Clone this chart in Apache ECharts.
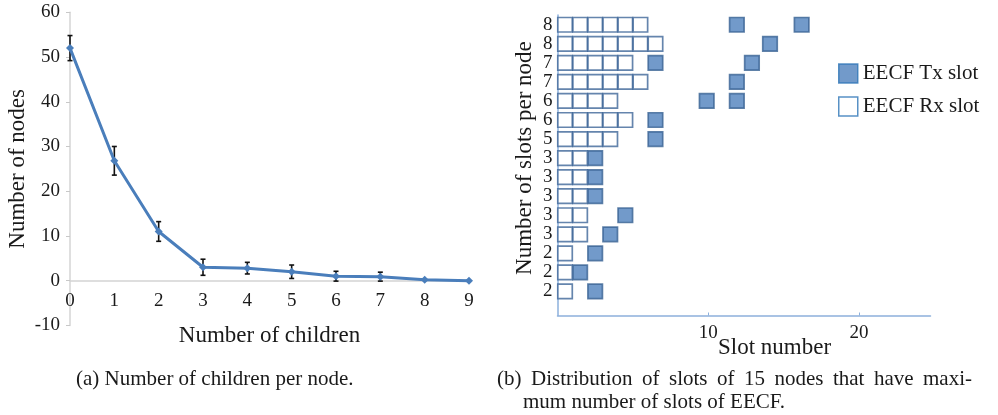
<!DOCTYPE html>
<html>
<head>
<meta charset="utf-8">
<script src="https://cdn.jsdelivr.net/npm/echarts@6/dist/echarts.min.js"></script>
<style>
  html, body { margin: 0; padding: 0; background: #fff; }
  #chart { width: 998px; height: 415px; }
</style>
</head>
<body>
<div id="chart"></div>
<script>
// (a) Number of children per node, with error bars
const children = [0, 1, 2, 3, 4, 5, 6, 7, 8, 9];
const nodeCounts = [52, 26.8, 11, 3, 2.8, 2, 1, 0.9, 0.2, 0];
const nodeErrors = [2.8, 3.2, 2.2, 1.8, 1.3, 1.5, 1.1, 1.0, 0, 0];

// (b) Slot layout of 15 nodes, top row first
const slotsPerNode = ['8', '8', '7', '7', '6', '6', '5', '3', '3', '3', '3', '3', '2', '2', '2'];
const rxSlotCount = [6, 7, 5, 6, 4, 5, 4, 2, 2, 2, 2, 2, 1, 1, 1];
const txSlots = [
  [12.4, 16.7],
  [14.6],
  [7, 13.4],
  [12.4],
  [10.4, 12.4],
  [7],
  [7],
  [3],
  [3],
  [3],
  [5],
  [4],
  [3],
  [2],
  [3]
];
const slotTicks = [10, 20];

const captionA = '(a) Number of children per node.';
const captionB1 = '(b) Distribution of slots of 15 nodes that have maxi-';
const captionB2 = 'mum number of slots of EECF.';

const FONT = '"Liberation Serif", "DejaVu Serif", serif';
const INK = '#1a1a1a';
const CAPTION_SIZE = 21;

const lineData = children.map((c, i) => [c, nodeCounts[i]]);
const errData = children.map((c, i) => [c, nodeCounts[i], nodeErrors[i]]).filter(d => d[2] > 0);

// squares: slot s covers [s-1, s], so it is centred at s - 0.5
const rxData = [];
rxSlotCount.forEach((n, row) => {
  for (let s = 1; s <= n; s++) rxData.push([s - 0.5, row]);
});
const txData = [];
txSlots.forEach((list, row) => {
  list.forEach(s => txData.push([s - 0.5, row]));
});

// a justified caption line: words spread across a fixed width
function justifiedLine(text, left, top, width, size) {
  const ctx = document.createElement('canvas').getContext('2d');
  ctx.font = size + 'px ' + FONT;
  const words = text.split(' ');
  const widths = words.map(w => ctx.measureText(w).width);
  const total = widths.reduce((a, b) => a + b, 0);
  const gap = (width - total) / (words.length - 1);
  const out = [];
  let x = left;
  words.forEach((w, i) => {
    out.push({
      type: 'text', left: Math.round(x * 10) / 10, top: top,
      style: { text: w, fontSize: size, fontFamily: FONT, fill: INK }
    });
    x += widths[i] + gap;
  });
  return out;
}

const chart = echarts.init(document.getElementById('chart'), null, { renderer: 'canvas' });

const option = {
  animation: false,
  backgroundColor: '#fff',
  textStyle: { fontFamily: FONT, color: INK },
  grid: [
    { left: 70, right: 529, top: 12.3, bottom: 89.6 },
    { left: 557.5, right: 67.5, top: 15.2, height: 285.75 },
    { left: 557.5, right: 67.5, top: 15, bottom: 99.5 }
  ],
  xAxis: [
    {
      // sits on the zero level of the y axis (44.7 px above the grid bottom)
      gridIndex: 0, type: 'value', min: 0, max: 9, interval: 1, offset: -44.7,
      axisLine: { onZero: false, lineStyle: { color: '#d4d4d4', width: 1.5 } },
      axisTick: { show: false },
      splitLine: { show: false },
      axisLabel: { fontSize: 19, margin: 11, color: INK, fontFamily: FONT },
      name: 'Number of children', nameLocation: 'middle', nameGap: 44,
      nameTextStyle: { fontSize: 23, color: INK, fontFamily: FONT }
    },
    {
      gridIndex: 1, type: 'value', min: 0, max: 24.75, show: false
    },
    {
      gridIndex: 2, type: 'value', min: 0, max: 24.75, interval: 10,
      axisLine: { onZero: false, lineStyle: { color: '#8db0dc', width: 1.5 } },
      axisTick: { show: true, inside: true, length: 3, lineStyle: { color: '#8db0dc' } },
      splitLine: { show: false },
      axisLabel: {
        fontSize: 19, margin: 8, color: INK, fontFamily: FONT,
        showMinLabel: false, showMaxLabel: false,
        formatter: v => (slotTicks.indexOf(v) >= 0 ? String(v) : '')
      }
    }
  ],
  yAxis: [
    {
      gridIndex: 0, type: 'value', min: -10, max: 60, interval: 10,
      axisLine: { show: true, onZero: false, lineStyle: { color: '#d4d4d4', width: 1.5 } },
      axisTick: { show: true, length: 4, lineStyle: { color: '#c8c8c8' } },
      splitLine: { show: false },
      axisLabel: { fontSize: 19, margin: 10, color: INK, fontFamily: FONT },
      name: 'Number of nodes', nameLocation: 'middle', nameRotate: 90, nameGap: 41,
      nameTextStyle: { fontSize: 23, color: INK, fontFamily: FONT }
    },
    {
      gridIndex: 1, type: 'category', inverse: true, data: slotsPerNode,
      axisLine: { show: false }, axisTick: { show: false }, splitLine: { show: false },
      axisLabel: { interval: 0, fontSize: 19, margin: 5, color: INK, fontFamily: FONT },
      name: 'Number of slots per node', nameLocation: 'middle', nameRotate: 90, nameGap: 21,
      nameTextStyle: { fontSize: 23, color: INK, fontFamily: FONT }
    },
    {
      gridIndex: 2, type: 'value', min: 0, max: 1,
      axisLine: { show: true, onZero: false, lineStyle: { color: '#8db0dc', width: 1.5 } },
      axisTick: { show: false }, axisLabel: { show: false }, splitLine: { show: false }
    }
  ],
  legend: {
    orient: 'vertical', left: 838, top: 63, padding: 0,
    itemWidth: 19, itemHeight: 19, itemGap: 12, icon: 'rect',
    textStyle: { fontSize: 21, color: INK, fontFamily: FONT, lineHeight: 19 },
    itemStyle: { borderColor: '#2e75b6', borderWidth: 1.5 },
    data: ['EECF Tx slot', 'EECF Rx slot']
  },
  series: [
    {
      type: 'custom', xAxisIndex: 0, yAxisIndex: 0, z: 1, silent: true,
      data: errData,
      renderItem: (params, api) => {
        const x = api.value(0), y = api.value(1), e = api.value(2);
        const top = api.coord([x, y + e]);
        const bot = api.coord([x, y - e]);
        const cap = 2.5;
        const style = { stroke: '#111', lineWidth: 1.6 };
        return {
          type: 'group',
          children: [
            { type: 'line', shape: { x1: top[0], y1: top[1], x2: bot[0], y2: bot[1] }, style },
            { type: 'line', shape: { x1: top[0] - cap, y1: top[1], x2: top[0] + cap, y2: top[1] }, style },
            { type: 'line', shape: { x1: bot[0] - cap, y1: bot[1], x2: bot[0] + cap, y2: bot[1] }, style }
          ]
        };
      }
    },
    {
      type: 'line', xAxisIndex: 0, yAxisIndex: 0, z: 3,
      data: lineData,
      symbol: 'diamond', symbolSize: 8, showSymbol: true,
      lineStyle: { color: '#4a7ebb', width: 3 },
      itemStyle: { color: '#4a7ebb' }
    },
    {
      name: 'EECF Tx slot', type: 'scatter', xAxisIndex: 1, yAxisIndex: 1,
      symbol: 'rect', symbolSize: 14.5,
      itemStyle: { color: '#4f81bd', borderColor: '#3a6394', borderWidth: 1.7 },
      data: txData
    },
    {
      name: 'EECF Rx slot', type: 'scatter', xAxisIndex: 1, yAxisIndex: 1,
      symbol: 'rect', symbolSize: 14.5,
      itemStyle: { color: '#ffffff', borderColor: '#3f6698', borderWidth: 1.7 },
      data: rxData
    }
  ],
  graphic: [
    {
      type: 'text', left: 718, top: 336, z: 10,
      style: { text: 'Slot number', fontSize: 23, fontFamily: FONT, fill: INK }
    },
    {
      type: 'text', left: 76, top: 369,
      style: { text: captionA, fontSize: CAPTION_SIZE, fontFamily: FONT, fill: INK }
    },
    ...justifiedLine(captionB1, 497, 369, 475, CAPTION_SIZE),
    {
      type: 'text', left: 523, top: 392,
      style: { text: captionB2, fontSize: CAPTION_SIZE, fontFamily: FONT, fill: INK }
    }
  ]
};

chart.setOption(option);
</script>
</body>
</html>
